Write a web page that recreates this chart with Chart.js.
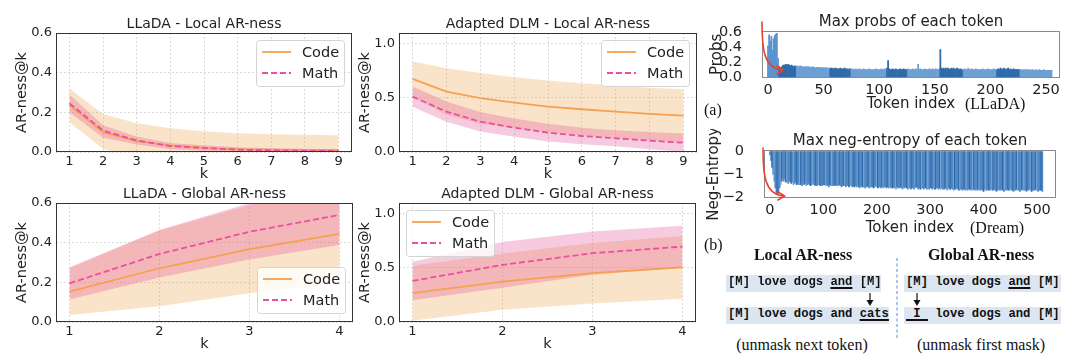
<!DOCTYPE html>
<html>
<head>
<meta charset="utf-8">
<script src="https://cdn.jsdelivr.net/npm/chart.js@4.4.0/dist/chart.umd.min.js"></script>
<style>
body { margin: 0; background: #fff; width: 1080px; height: 362px; position: relative; overflow: hidden; }
canvas { position: absolute; }
.t { position: absolute; white-space: pre; line-height: 1; transform: translate(0, -50%); color: #111; font-family: 'Liberation Serif', serif; font-size: 16px; }
.c { transform: translate(-50%, -50%); }
.b { font-weight: bold; }
.row { position: absolute; height: 17px; line-height: 17px; background: #dce6f2; box-sizing: border-box; padding-left: 2px;
       font: bold 12.2px 'Liberation Mono', monospace; white-space: pre; color: #111; }
.row u { text-decoration-thickness: 1.5px; text-underline-offset: 2px; }
svg { position: absolute; left: 0; top: 0; }
</style>
</head>
<body>
<canvas id="c1"></canvas>
<canvas id="c2"></canvas>
<canvas id="c3"></canvas>
<canvas id="c4"></canvas>
<canvas id="c5"></canvas>
<canvas id="c6"></canvas>

<div class="t" style="left:704px;top:110px">(a)</div>
<div class="t" style="left:965px;top:104px">(LLaDA)</div>
<div class="t" style="left:970px;top:228px">(Dream)</div>
<div class="t" style="left:704px;top:245px">(b)</div>
<div class="t c b" style="left:803px;top:255px">Local AR-ness</div>
<div class="t c b" style="left:981px;top:255px">Global AR-ness</div>
<div class="row" style="left:726px;top:275px;width:155px">[M] love dogs <u>and</u> [M]</div>
<div class="row" style="left:726px;top:307px;width:163px">[M] love dogs and <u>cats</u></div>
<div class="row" style="left:904px;top:275px;width:157px">[M] love dogs <u>and</u> [M]</div>
<div class="row" style="left:904px;top:307px;width:157px"><u> I </u> love dogs and [M]</div>
<div class="t c" style="left:802px;top:345px">(unmask next token)</div>
<div class="t c" style="left:981px;top:345px">(unmask first mask)</div>

<svg width="1080" height="362">
  <g stroke="#e8412c" stroke-width="1.6" fill="none" stroke-linecap="round">
    <path d="M762,22 C762,50 764,68 782,70"/>
    <path d="M777,66 L783.5,70 L777,74"/>
    <path d="M763,148 C763,176 765,194 783,196"/>
    <path d="M778,192 L784.5,196 L778,200"/>
  </g>
  <g stroke="#111" stroke-width="1.2" fill="#111">
    <line x1="870" y1="293" x2="870" y2="302"/>
    <polygon points="866.5,300 873.5,300 870,306" stroke="none"/>
    <line x1="917" y1="293" x2="917" y2="302"/>
    <polygon points="913.5,300 920.5,300 917,306" stroke="none"/>
  </g>
  <line x1="897" y1="258" x2="897" y2="338" stroke="#5a8ad8" stroke-width="1" stroke-dasharray="3,2.5"/>
</svg>

<script>
// ---------- data ----------
var seriesNames = ['Code', 'Math'];
var kLocal = [1, 2, 3, 4, 5, 6, 7, 8, 9];
var kGlobal = [1, 2, 3, 4];

// LLaDA - Local AR-ness
var llLocalCode   = [0.235, 0.100, 0.055, 0.033, 0.022, 0.015, 0.012, 0.011, 0.010];
var llLocalCodeHi = [0.320, 0.192, 0.145, 0.120, 0.105, 0.095, 0.090, 0.087, 0.085];
var llLocalCodeLo = [0.150, 0.015, -0.035, -0.054, -0.061, -0.065, -0.066, -0.065, -0.065];
var llLocalMath   = [0.245, 0.108, 0.058, 0.030, 0.020, 0.012, 0.008, 0.006, 0.005];
var llLocalMathHi = [0.290, 0.135, 0.078, 0.046, 0.034, 0.024, 0.019, 0.016, 0.014];
var llLocalMathLo = [0.200, 0.072, 0.038, 0.014, 0.006, 0.000, -0.003, -0.004, -0.004];

// Adapted DLM - Local AR-ness
var adLocalCode   = [0.676, 0.558, 0.497, 0.457, 0.420, 0.395, 0.373, 0.352, 0.336];
var adLocalCodeHi = [0.836, 0.775, 0.730, 0.690, 0.660, 0.636, 0.614, 0.595, 0.580];
var adLocalCodeLo = [0.516, 0.341, 0.264, 0.224, 0.180, 0.154, 0.132, 0.109, 0.092];
var adLocalMath   = [0.512, 0.373, 0.280, 0.225, 0.179, 0.148, 0.127, 0.105, 0.086];
var adLocalMathHi = [0.605, 0.466, 0.370, 0.310, 0.260, 0.225, 0.200, 0.185, 0.170];
var adLocalMathLo = [0.419, 0.280, 0.190, 0.140, 0.098, 0.071, 0.054, 0.025, 0.002];

// LLaDA - Global AR-ness
var llGlobalCode   = [0.153, 0.271, 0.367, 0.444];
var llGlobalCodeHi = [0.271, 0.462, 0.589, 0.693];
var llGlobalCodeLo = [0.035, 0.080, 0.145, 0.195];
var llGlobalMath   = [0.195, 0.343, 0.455, 0.540];
var llGlobalMathHi = [0.276, 0.464, 0.600, 0.692];
var llGlobalMathLo = [0.114, 0.225, 0.315, 0.388];

// Adapted DLM - Global AR-ness
var adGlobalCode   = [0.266, 0.373, 0.451, 0.506];
var adGlobalCodeHi = [0.520, 0.633, 0.731, 0.796];
var adGlobalCodeLo = [0.012, 0.113, 0.171, 0.216];
var adGlobalMath   = [0.380, 0.528, 0.636, 0.697];
var adGlobalMathHi = [0.558, 0.740, 0.836, 0.890];
var adGlobalMathLo = [0.202, 0.316, 0.436, 0.504];

var arTicksSmall = [0, 0.2, 0.4, 0.6];
var arTicksBig = [0, 0.5, 1.0];

// max prob of each token (LLaDA), tokens 0..255
var llTokenProbs = [
  0.42,0.57,0.48,0.55,0.36,0.52,0.56,0.58,0.59,0.25,0.14,0.12,0.13,0.15,0.16,0.16,
  0.17,0.16,0.17,0.16,0.15,0.16,0.15,0.14,0.15,0.14,0.15,0.14,0.14,0.15,0.14,0.14,
  0.14,0.13,0.14,0.14,0.13,0.14,0.13,0.13,0.14,0.13,0.13,0.12,0.13,0.13,0.12,0.13,
  0.12,0.13,0.12,0.12,0.13,0.12,0.12,0.11,0.12,0.12,0.11,0.12,0.11,0.12,0.11,0.11,
  0.11,0.12,0.11,0.11,0.11,0.12,0.11,0.11,0.10,0.11,0.11,0.10,0.11,0.10,0.10,0.11,
  0.10,0.10,0.11,0.10,0.10,0.10,0.11,0.10,0.10,0.10,0.10,0.11,0.10,0.10,0.10,0.10,
  0.10,0.11,0.10,0.10,0.10,0.10,0.11,0.10,0.10,0.11,0.10,0.12,0.22,0.11,0.10,0.10,
  0.11,0.10,0.10,0.11,0.10,0.10,0.10,0.11,0.10,0.10,0.11,0.10,0.10,0.10,0.11,0.10,
  0.10,0.10,0.11,0.10,0.10,0.11,0.10,0.17,0.10,0.11,0.10,0.10,0.10,0.11,0.10,0.10,
  0.10,0.11,0.10,0.10,0.11,0.10,0.10,0.11,0.10,0.10,0.11,0.37,0.12,0.11,0.12,0.11,
  0.12,0.11,0.12,0.10,0.11,0.12,0.11,0.12,0.10,0.11,0.12,0.11,0.10,0.11,0.10,0.10,
  0.10,0.11,0.10,0.10,0.12,0.10,0.10,0.11,0.10,0.10,0.10,0.11,0.10,0.10,0.10,0.10,
  0.10,0.11,0.10,0.10,0.10,0.10,0.11,0.10,0.10,0.10,0.10,0.11,0.10,0.10,0.10,0.11,
  0.10,0.12,0.11,0.10,0.12,0.11,0.10,0.11,0.12,0.10,0.11,0.10,0.10,0.11,0.10,0.10,
  0.10,0.10,0.10,0.10,0.10,0.09,0.10,0.10,0.09,0.10,0.10,0.09,0.10,0.09,0.10,0.09,
  0.09,0.10,0.09,0.09,0.10,0.09,0.09,0.09,0.10,0.09,0.09,0.09,0.09,0.09,0.09,0.09
];

// max neg-entropy of each token (Dream), read every 2nd token 0..510
var dreamNegEntropy = [
  -0.15,-0.40,-0.70,-1.00,-1.30,-1.60,-1.80,-1.85,-1.75,-1.60,-1.45,-1.30,-1.15,-1.30,-1.20,-1.35,
  -1.25,-1.40,-1.30,-1.35,-1.40,-1.35,-1.45,-1.40,-1.35,-1.45,-1.40,-1.45,-1.40,-1.45,-1.50,-1.40,
  -1.45,-1.40,-1.50,-1.45,-1.40,-1.45,-1.50,-1.45,-1.45,-1.40,-1.50,-1.45,-1.50,-1.45,-1.45,-1.50,
  -1.45,-1.50,-1.45,-1.45,-1.50,-1.45,-1.50,-1.55,-1.45,-1.50,-1.45,-1.50,-1.50,-1.45,-1.50,-1.50,
  -1.50,-1.45,-1.50,-1.55,-1.50,-1.50,-1.45,-1.55,-1.50,-1.50,-1.55,-1.50,-1.50,-1.55,-1.50,-1.55,
  -1.50,-1.55,-1.50,-1.55,-1.60,-1.50,-1.55,-1.55,-1.50,-1.60,-1.55,-1.50,-1.55,-1.60,-1.55,-1.55,
  -1.55,-1.60,-1.55,-1.50,-1.55,-1.60,-1.55,-1.55,-1.60,-1.55,-1.60,-1.55,-1.55,-1.60,-1.55,-1.60,
  -1.60,-1.55,-1.60,-1.60,-1.55,-1.60,-1.65,-1.55,-1.60,-1.60,-1.55,-1.60,-1.65,-1.60,-1.60,-1.55,
  -1.60,-1.65,-1.60,-1.60,-1.65,-1.60,-1.60,-1.65,-1.60,-1.55,-1.60,-1.65,-1.60,-1.65,-1.60,-1.60,
  -1.65,-1.60,-1.60,-1.65,-1.60,-1.65,-1.60,-1.60,-1.65,-1.60,-1.65,-1.65,-1.60,-1.60,-1.65,-1.60,
  -1.65,-1.60,-1.65,-1.65,-1.60,-1.65,-1.70,-1.60,-1.65,-1.65,-1.60,-1.65,-1.70,-1.65,-1.65,-1.60,
  -1.65,-1.70,-1.65,-1.65,-1.70,-1.65,-1.65,-1.70,-1.65,-1.70,-1.65,-1.65,-1.70,-1.65,-1.70,-1.65,
  -1.70,-1.65,-1.70,-1.65,-1.70,-1.70,-1.65,-1.70,-1.75,-1.65,-1.70,-1.70,-1.65,-1.70,-1.70,-1.65,
  -1.70,-1.70,-1.65,-1.70,-1.75,-1.70,-1.65,-1.70,-1.70,-1.65,-1.70,-1.75,-1.70,-1.70,-1.65,-1.70,
  -1.70,-1.65,-1.70,-1.70,-1.75,-1.70,-1.70,-1.65,-1.70,-1.70,-1.75,-1.70,-1.65,-1.70,-1.70,-1.70,
  -1.75,-1.70,-1.70,-1.65,-1.70,-1.75,-1.70,-1.70,-1.70,-1.65,-1.70,-1.75,-1.70,-1.70,-1.70,-1.75
];

var probTicksX = [0, 50, 100, 150, 200, 250];
var probTicksY = [0, 0.2, 0.4, 0.6];
var entTicksX = [0, 100, 200, 300, 400, 500];
var entTicksY = [0, -1, -2];

// ---------- plugins ----------
Chart.defaults.font.family = "'DejaVu Sans', sans-serif";
Chart.defaults.color = '#222';

var framePlugin = {
  id: 'frame',
  afterDatasetsDraw: function (chart, args, opts) {
    var a = chart.chartArea, ctx = chart.ctx;
    ctx.save();
    ctx.strokeStyle = opts.color || '#333';
    ctx.lineWidth = 1;
    ctx.strokeRect(Math.round(a.left) + 0.5, Math.round(a.top) + 0.5,
                   Math.round(a.right - a.left) - 1, Math.round(a.bottom - a.top) - 1);
    ctx.restore();
  }
};

// matplotlib style legend box drawn inside the axes
var boxLegendPlugin = {
  id: 'boxLegend',
  afterDraw: function (chart, args, opts) {
    if (!opts.corner) return;
    var a = chart.chartArea, ctx = chart.ctx;
    var w = 88, h = 46;
    var x = opts.corner.indexOf('l') >= 0 ? a.left + 7 : a.right - 8 - w;
    var y = opts.corner.indexOf('t') >= 0 ? a.top + 7 : a.bottom - 9 - h;
    ctx.save();
    ctx.beginPath();
    if (ctx.roundRect) ctx.roundRect(x + 0.5, y + 0.5, w, h, 3); else ctx.rect(x + 0.5, y + 0.5, w, h);
    ctx.fillStyle = 'rgba(255,255,255,0.8)';
    ctx.fill();
    ctx.strokeStyle = '#d4d4d4';
    ctx.lineWidth = 1;
    ctx.stroke();
    var items = chart.data.datasets.filter(function (d) { return d.label; });
    items.forEach(function (d, i) {
      var yy = y + 12 + i * 21;
      ctx.beginPath();
      ctx.setLineDash(d.borderDash || []);
      ctx.strokeStyle = d.borderColor;
      ctx.lineWidth = d.borderWidth;
      ctx.moveTo(x + 6, yy);
      ctx.lineTo(x + 35, yy);
      ctx.stroke();
      ctx.setLineDash([]);
      ctx.fillStyle = '#222';
      ctx.font = "14.5px 'DejaVu Sans'";
      ctx.textBaseline = 'middle';
      ctx.fillText(d.label, x + 46, yy + 1);
    });
    ctx.restore();
  }
};
Chart.register(framePlugin, boxLegendPlugin);

function place(el, left, top, w, h) {
  el.width = w; el.height = h;
  el.style.left = left + 'px'; el.style.top = top + 'px';
}

var gridOpts = { color: '#d2d2d2', lineWidth: 0.8, drawTicks: false };
var borderOpts = { display: false, dash: [2, 2] };

function lineChart(id, g, k, s, o) {
  var el = document.getElementById(id);
  var yw = 56, th = 20, xh = 31, rp = 8;
  place(el, g.l - yw, g.t - th, yw + g.r - g.l + rp, th + g.b - g.t + xh);
  var pts = function (arr) { return k.map(function (x, i) { return { x: x, y: arr[i] }; }); };
  var bandSet = function (arr, color, order) {
    return { data: pts(arr), borderWidth: 0, borderColor: 'transparent', pointRadius: 0,
             fill: color ? '+1' : false, backgroundColor: color || 'transparent', order: order };
  };
  new Chart(el, {
    type: 'line',
    data: {
      datasets: [
        bandSet(s.codeHi, 'rgba(240,165,75,0.3)', 6),
        bandSet(s.codeLo, null, 5),
        bandSet(s.mathHi, 'rgba(225,80,150,0.3)', 4),
        bandSet(s.mathLo, null, 3),
        { label: seriesNames[0], data: pts(s.code), borderColor: '#f5a150', borderWidth: 1.8, pointRadius: 0, fill: false, order: 2 },
        { label: seriesNames[1], data: pts(s.math), borderColor: '#ec4f9e', borderWidth: 1.8, borderDash: [6, 3], pointRadius: 0, fill: false, order: 1 }
      ]
    },
    options: {
      responsive: false, animation: false, events: [],
      layout: { padding: { left: 0, right: rp, top: 0, bottom: 0 } },
      plugins: {
        legend: { display: false }, tooltip: { enabled: false },
        title: { display: true, fullSize: false, text: o.title, color: '#222', font: { size: 14, weight: 'normal' }, padding: { top: th - 16.8, bottom: 0 } },
        boxLegend: { corner: o.legend },
        frame: { color: '#333' }
      },
      scales: {
        x: {
          type: 'linear', min: k[0] - o.pad, max: k[k.length - 1] + o.pad,
          afterFit: function (sc) { sc.height = xh; },
          afterBuildTicks: function (sc) { sc.ticks = k.map(function (v) { return { value: v }; }); },
          ticks: { font: { size: 13 }, color: '#222', padding: 2, autoSkip: false, maxRotation: 0 },
          grid: gridOpts, border: borderOpts,
          title: { display: true, text: 'k', color: '#222', font: { size: 14.5 }, padding: { top: 0, bottom: 0 } }
        },
        y: {
          min: 0, max: o.ymax,
          afterFit: function (sc) { sc.width = yw; },
          afterBuildTicks: function (sc) { sc.ticks = o.yt.map(function (v) { return { value: v }; }); },
          ticks: { font: { size: 13 }, color: '#222', padding: 4, autoSkip: false, callback: function (v) { return v.toFixed(1); } },
          grid: gridOpts, border: borderOpts,
          title: { display: true, text: 'AR-ness@k', color: '#222', font: { size: 14.5 }, padding: { top: 13.3, bottom: 0 } }
        }
      }
    }
  });
}

function barChart(id, g, xs, ys, colors, o) {
  var el = document.getElementById(id);
  var left = 700, yw = g.l - left;
  place(el, left, g.t - o.th, yw + g.r - g.l + 14, o.th + g.b - g.t + o.xh);
  new Chart(el, {
    type: 'bar',
    data: { datasets: [{ data: xs.map(function (x, i) { return { x: x, y: ys[i] }; }),
                         backgroundColor: colors, borderWidth: 0, barPercentage: 1, categoryPercentage: 1 }] },
    options: {
      responsive: false, animation: false, events: [],
      layout: { padding: { left: 0, right: 14, top: 0, bottom: 0 } },
      plugins: {
        legend: { display: false }, tooltip: { enabled: false },
        title: { display: true, fullSize: false, text: o.title, color: '#222', font: { size: 15, weight: 'normal' }, padding: { top: o.th - 18, bottom: 0 } },
        frame: { color: '#8a8a8a' }
      },
      scales: {
        x: {
          type: 'linear', offset: false, min: o.xmin, max: o.xmax,
          afterFit: function (sc) { sc.height = o.xh; },
          afterBuildTicks: function (sc) { sc.ticks = o.xt.map(function (v) { return { value: v }; }); },
          ticks: { font: { size: 14.5 }, color: '#222', padding: -4, autoSkip: false, maxRotation: 0 },
          grid: { display: false, offset: false }, border: { display: false },
          title: { display: true, text: 'Token index', color: '#222', font: { size: 15 }, padding: { top: 0, bottom: 0 } }
        },
        y: {
          min: o.ymin, max: o.ymax,
          afterFit: function (sc) { sc.width = yw; },
          afterBuildTicks: function (sc) { sc.ticks = o.yt.map(function (v) { return { value: v }; }); },
          ticks: { font: { size: 14.5 }, color: '#222', padding: 12, autoSkip: false, callback: o.fmt },
          grid: { display: false }, border: { display: false },
          title: { display: true, text: o.ylabel, color: '#222', font: { size: 15 }, padding: { top: o.ytp, bottom: 0 } }
        }
      }
    }
  });
}

// ---------- build ----------
lineChart('c1', { l: 56, r: 352, t: 33, b: 152 }, kLocal,
  { code: llLocalCode, codeHi: llLocalCodeHi, codeLo: llLocalCodeLo, math: llLocalMath, mathHi: llLocalMathHi, mathLo: llLocalMathLo },
  { title: 'LLaDA - Local AR-ness', ymax: 0.6, yt: arTicksSmall, pad: 0.4, legend: 'tr' });
lineChart('c2', { l: 399, r: 697, t: 33, b: 152 }, kLocal,
  { code: adLocalCode, codeHi: adLocalCodeHi, codeLo: adLocalCodeLo, math: adLocalMath, mathHi: adLocalMathHi, mathLo: adLocalMathLo },
  { title: 'Adapted DLM - Local AR-ness', ymax: 1.1, yt: arTicksBig, pad: 0.4, legend: 'tr' });
lineChart('c3', { l: 56, r: 353, t: 203, b: 322 }, kGlobal,
  { code: llGlobalCode, codeHi: llGlobalCodeHi, codeLo: llGlobalCodeLo, math: llGlobalMath, mathHi: llGlobalMathHi, mathLo: llGlobalMathLo },
  { title: 'LLaDA - Global AR-ness', ymax: 0.6, yt: arTicksSmall, pad: 0.15, legend: 'br' });
lineChart('c4', { l: 399, r: 696, t: 203, b: 322 }, kGlobal,
  { code: adGlobalCode, codeHi: adGlobalCodeHi, codeLo: adGlobalCodeLo, math: adGlobalMath, mathHi: adGlobalMathHi, mathLo: adGlobalMathLo },
  { title: 'Adapted DLM - Global AR-ness', ymax: 1.1, yt: arTicksBig, pad: 0.15, legend: 'tl' });

// bar shades (generation blocks in LLaDA, stripes in Dream)
var probBlockEdges = [10, 26, 56, 75, 107, 126, 155, 176, 206, 227];
var probColors = llTokenProbs.map(function (v, i) {
  if (i < 10) return '#5d93cf';
  var n = probBlockEdges.filter(function (b) { return i >= b; }).length;
  return n % 2 ? '#2f6aab' : '#6d9fd3';
});
var stripeShades = ['#2d68a8', '#4f87c3', '#78a6d7'];
var stripePattern = [1, 1, 0, 1, 2, 1, 1, 0, 1, 1, 2, 0, 1, 1, 1, 0, 2, 1];
var entColors = dreamNegEntropy.map(function (v, i) { return stripeShades[stripePattern[i % stripePattern.length]]; });

barChart('c5', { l: 762, r: 1060, t: 30, b: 78 }, llTokenProbs.map(function (v, i) { return i; }), llTokenProbs, probColors,
  { title: 'Max probs of each token', th: 20, xh: 35, xmin: -5.4, xmax: 262.6, xt: probTicksX,
    ymin: -0.015, ymax: 0.625, yt: probTicksY, ylabel: 'Probs', ytp: 8, fmt: function (v) { return v.toFixed(1); } });
barChart('c6', { l: 764, r: 1056, t: 149, b: 198 }, dreamNegEntropy.map(function (v, i) { return i * 2; }), dreamNegEntropy, entColors,
  { title: 'Max neg-entropy of each token', th: 20, xh: 39, xmin: -11.2, xmax: 535.6, xt: entTicksX,
    ymin: -2.04, ymax: 0.08, yt: entTicksY, ylabel: 'Neg-Entropy', ytp: 5, fmt: function (v) { return v < 0 ? '\u2212' + (-v) : String(v); } });
</script>
</body>
</html>
